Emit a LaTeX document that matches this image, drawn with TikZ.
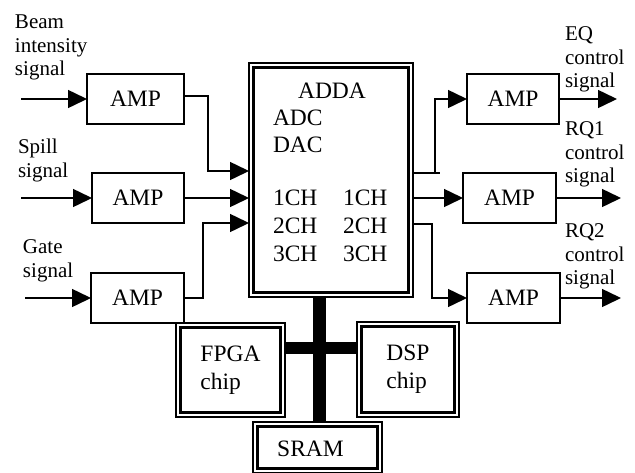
\documentclass[tikz,border=0pt]{standalone}
\usepackage{fontspec}
\setmainfont{Liberation Serif}
\usetikzlibrary{arrows.meta,calc}
\begin{document}
\begin{tikzpicture}[x=1pt,y=-1pt,
  every node/.style={font=\fontsize{23.5}{28}\selectfont, inner sep=0pt, outer sep=0pt},
  ampbox/.style={draw, line width=1.5pt, minimum height=50pt},
  dblbox/.style={draw, line width=1.6pt},
  conn/.style={line width=1.5pt},
  arr/.style={conn, -{Triangle[length=19pt,width=18pt]}},
  bus/.style={line width=12.5pt},
  lbl/.style={align=left, anchor=north west, font=\fontsize{21}{23.5}\selectfont},
]
\fill[white] (0,0) rectangle (635,472);
\useasboundingbox (0,0) rectangle (635,472);

% amplifiers
\node[ampbox, minimum width=97pt] (amp1) at (135.5,99) {AMP};
\node[ampbox, minimum width=92pt] (amp2) at (138,198) {AMP};
\node[ampbox, minimum width=93pt] (amp3) at (137.5,298) {AMP};
\node[ampbox, minimum width=92pt] (amp4) at (513,99) {AMP};
\node[ampbox, minimum width=93pt] (amp5) at (509.5,198) {AMP};
\node[ampbox, minimum width=93pt] (amp6) at (513.5,298) {AMP};

% double boxes
\node[dblbox, minimum width=164pt, minimum height=234pt] (adda) at (331,180) {};
\node[dblbox, minimum width=109pt, minimum height=94pt, align=left] (fpga) at (230.5,370) {FPGA\\chip};
\node[dblbox, minimum width=102pt, minimum height=95pt, align=left] (dsp) at (408,369.5) {DSP\\chip};
\node[dblbox, minimum width=129pt, minimum height=51pt] (sram) at (317.5,447.5) {};
\node (sramt) at (310.5,449) {SRAM};
\foreach \n in {adda,fpga,dsp,sram}
  \draw[line width=2.6pt] ($(\n.north west)+(4.5,4.5)$) rectangle ($(\n.south east)+(-4.5,-4.5)$);

% ADDA contents
\node (addat) at (332,91) {ADDA};
\node[anchor=west] (adc) at (273,118) {ADC};
\node[anchor=west] (dac) at (273,145) {DAC};
\node[anchor=west] (l1) at (273,198) {1CH};
\node[anchor=west] (l2) at (273,226) {2CH};
\node[anchor=west] (l3) at (273,254) {3CH};
\node[anchor=west] (r1) at (343,198) {1CH};
\node[anchor=west] (r2) at (343,226) {2CH};
\node[anchor=west] (r3) at (343,254) {3CH};

% labels
\node[lbl] (lb1) at (15,15) {Beam\\intensity\\signal};
\node[lbl] (lb2) at (18,139) {Spill\\signal};
\node[lbl] (lb3) at (23,240) {Gate\\signal};
\node[lbl] (lb4) at (565,27) {EQ\\control\\signal};
\node[lbl] (lb5) at (565,122) {RQ1\\control\\signal};
\node[lbl] (lb6) at (565,224) {RQ2\\control\\signal};

% bus
\coordinate (bv) at ($(sram.north)+(2,0)$);
\draw[bus] (bv) -- (bv |- adda.south);
\coordinate (bh) at ($(fpga.east)+(0,-22)$);
\draw[bus] (bh) -- (bh -| dsp.west);

% inputs
\coordinate (in1) at (21,99);
\coordinate (in2) at (21,198);
\coordinate (in3) at (25,298);
\draw[arr] (in1) -- (amp1.west);
\draw[arr] (in2) -- (amp2.west);
\draw[arr] (in3) -- (amp3.west);

% to ADDA
\coordinate (a1) at ($(adda.north west)+(0,108)$);
\coordinate (a3) at ($(adda.north west)+(0,160)$);
\draw[arr] ($(amp1.east)+(0,-3)$) -| ($(a1)+(-41,0)$) -- (a1);
\draw[arr] (amp2.east) -- (amp2.east -| adda.west);
\draw[arr] (amp3.east) -| ($(a3)+(-46,0)$) -- (a3);

% from ADDA
\coordinate (b1) at ($(adda.north east)+(0,110)$);
\coordinate (b3) at ($(adda.north east)+(0,161)$);
\draw[conn] (b1) -- ++(27,0);
\draw[arr] ($(b1)+(22,0)$) |- (amp4.west);
\draw[arr] (amp5.west -| adda.east) -- (amp5.west);
\draw[arr] (b3) -| ($(amp6.west)+(-35,0)$) -- (amp6.west);

% outputs
\coordinate (o1) at (617,99);
\coordinate (o2) at (621,198);
\coordinate (o3) at (621,298);
\draw[arr] (amp4.east) -- (o1);
\draw[arr] (amp5.east) -- (o2);
\draw[arr] (amp6.east) -- (o3);
\end{tikzpicture}
\end{document}
